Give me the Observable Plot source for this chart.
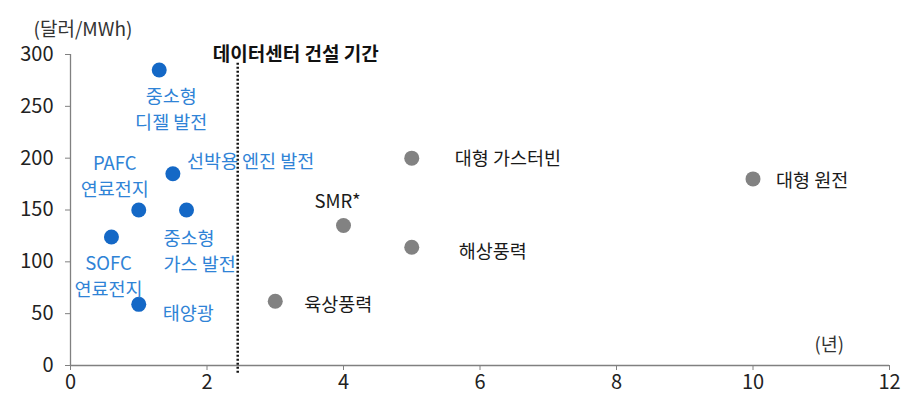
<!DOCTYPE html>
<html>
<head>
<meta charset="utf-8">
<script src="https://cdn.jsdelivr.net/npm/d3@7"></script>
<script src="https://cdn.jsdelivr.net/npm/@observablehq/plot@0.6"></script>
<style>
  body { margin: 0; background: #fff; }
  svg { display: block; }
</style>
</head>
<body>
<div id="chart"></div>
<script>
// Power sources: construction period (years) vs. levelized cost (USD/MWh)
const names = [
  "중소형\n디젤 발전", "선박용 엔진 발전", "PAFC\n연료전지", "중소형\n가스 발전",
  "SOFC\n연료전지", "태양광", "대형 가스터빈", "SMR*", "해상풍력", "육상풍력", "대형 원전"
];
const buildYears = [1.3, 1.5, 1.0, 1.7, 0.6, 1.0, 5, 4, 5, 3, 10];
const costs = [285, 185, 150, 150, 124, 59, 200, 135, 114, 62, 180];
const groups = ["onsite", "onsite", "onsite", "onsite", "onsite", "onsite", "grid", "grid", "grid", "grid", "grid"];
const xTicks = [0, 2, 4, 6, 8, 10, 12];
const yTicks = [0, 50, 100, 150, 200, 250, 300];
const constructionPeriod = 2.45;
const periodLabel = "데이터센터 건설 기간";
const yUnit = "(달러/MWh)";
const xUnit = "(년)";

const font = "'Noto Sans CJK KR', 'Noto Sans', sans-serif";
const dotColor = {onsite: "#1468C6", grid: "#828282"};
const textColor = {onsite: "#2F83D6", grid: "#1a1a1a"};

// label offsets (px) relative to each dot
const placement = {
  "중소형\n디젤 발전": {dx: 12, dy: 38, anchor: "middle"},
  "선박용 엔진 발전": {dx: 14, dy: -14, anchor: "start"},
  "PAFC\n연료전지": {dx: -24, dy: -35, anchor: "middle"},
  "중소형\n가스 발전": {dx: -23, dy: 40, anchor: "start"},
  "SOFC\n연료전지": {dx: -3, dy: 38, anchor: "middle"},
  "태양광": {dx: 24, dy: 7, anchor: "start"},
  "대형 가스터빈": {dx: 43, dy: -2, anchor: "start"},
  "SMR*": {dx: -6, dy: -26, anchor: "middle"},
  "해상풍력": {dx: 47, dy: 2, anchor: "start"},
  "육상풍력": {dx: 29, dy: 1, anchor: "start"},
  "대형 원전": {dx: 23, dy: 0, anchor: "start"}
};

const rows = names.map((name, i) => ({name, x: buildYears[i], y: costs[i], group: groups[i]}));

const labelMarks = rows.map(r => {
  const p = placement[r.name];
  return Plot.text([r], {
    x: "x", y: "y", text: "name",
    dx: p.dx, dy: p.dy, textAnchor: p.anchor,
    lineHeight: 1.41, fontSize: 18.5,
    fill: textColor[r.group]
  });
});

const chart = Plot.plot({
  width: 922,
  height: 403,
  marginLeft: 70,
  marginRight: 33,
  marginTop: 54,
  marginBottom: 38,
  style: {fontFamily: font, background: "#fff"},
  x: {domain: [0, 12]},
  y: {domain: [0, 300]},
  marks: [
    Plot.axisY({ticks: yTicks, tickSize: 5, tickPadding: 12, fontSize: 20, stroke: "#808080", fill: "#222", label: null}),
    Plot.axisX({ticks: xTicks, tickSize: 5, tickPadding: 4, fontSize: 20, stroke: "#808080", fill: "#222", label: null}),
    Plot.ruleX([0], {stroke: "#808080", strokeWidth: 1.3}),
    Plot.ruleY([0], {stroke: "#808080", strokeWidth: 1.6}),
    Plot.ruleX([constructionPeriod], {y1: -7.5, y2: 292, stroke: "#111", strokeWidth: 2.5, strokeDasharray: "2,2"}),
    Plot.text([constructionPeriod], {x: d => d, frameAnchor: "top", dx: -25, dy: -7, text: () => periodLabel, textAnchor: "start", fontWeight: "bold", fontSize: 19, fill: "#111"}),
    Plot.text([yUnit], {frameAnchor: "top-left", dx: -37, dy: -32, text: d => d, textAnchor: "start", fontSize: 19, fill: "#333"}),
    Plot.text([xUnit], {frameAnchor: "bottom-right", dx: -75, dy: -15, text: d => d, textAnchor: "start", fontSize: 18.5, fill: "#333"}),
    Plot.dot(rows, {x: "x", y: "y", r: 7.5, fill: d => dotColor[d.group], stroke: "none"}),
    ...labelMarks
  ]
});

document.getElementById("chart").append(chart);
</script>
</body>
</html>
